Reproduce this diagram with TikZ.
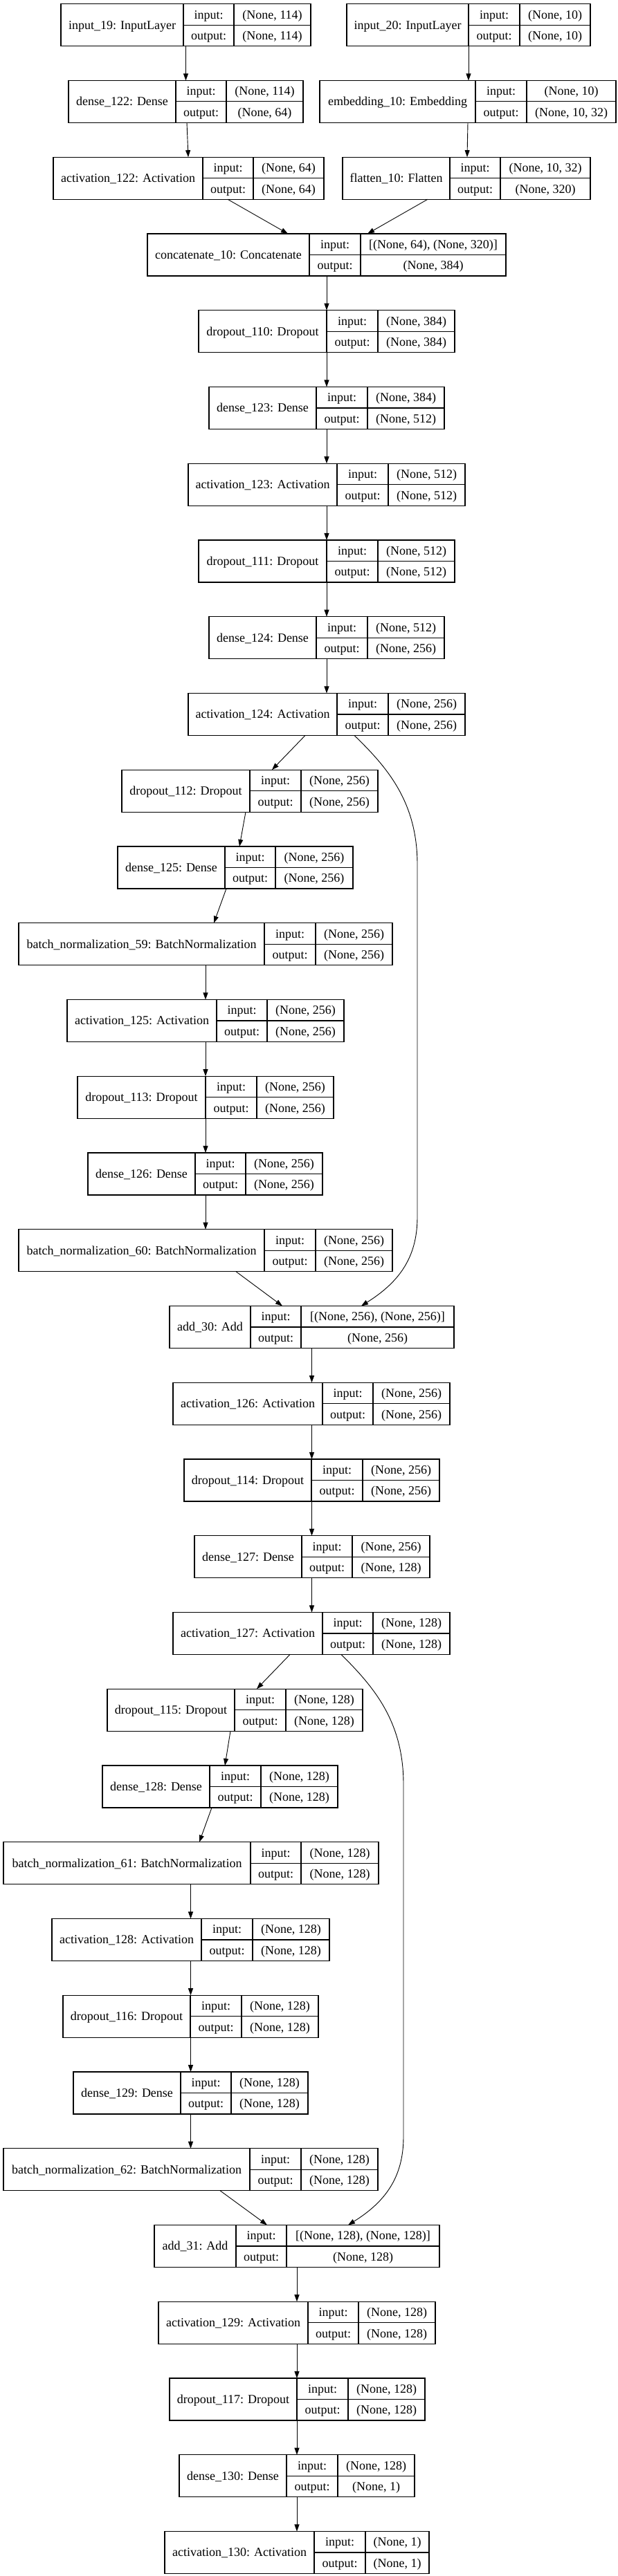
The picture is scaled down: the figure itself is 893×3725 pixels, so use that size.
\documentclass[tikz,border=0pt]{standalone}
\usepackage{fontspec}
\setmainfont{Liberation Serif}
\usetikzlibrary{arrows.meta}
\tikzset{
  rec/.style={draw=black, line width=1.1pt, inner sep=0pt, outer sep=0pt, rectangle},
  cell/.style={draw=black, line width=1.1pt},
  txt/.style={anchor=base, inner sep=0pt, font=\fontsize{18}{20}\selectfont},
  edge/.style={draw=black, line width=0.9pt, -{Triangle[length=10pt,width=7pt]}},
}
% #1 name, #2 x0, #3 x1, #4 d1, #5 d2, #6 row, #7 label, #8 input shape, #9 output shape
\newcommand\mklayer[9]{%
  \pgfmathsetmacro\yt{5.7+110.75*#6}%
  \pgfmathsetmacro\yb{\yt+61}%
  \pgfmathsetmacro\ym{\yt+30.5}%
  \node[rec, anchor=north west, minimum width={(#3-#2)*1pt}, minimum height=61pt] (#1) at (#2,\yt) {};
  \draw[cell] (#4,\yt) -- (#4,\yb) (#5,\yt) -- (#5,\yb) (#4,\ym) -- (#3,\ym);
  \node[txt] (#1-l) at ({(#2+#4)/2},{\ym+6}) {#7};
  \node[txt] (#1-i) at ({(#4+#5)/2},{\yt+21.5}) {input:};
  \node[txt] (#1-o) at ({(#4+#5)/2},{\yt+52}) {output:};
  \node[txt] (#1-a) at ({(#5+#3)/2},{\yt+21.5}) {#8};
  \node[txt] (#1-b) at ({(#5+#3)/2},{\yt+52}) {#9};
}
\newcommand\vedge[3]{\draw[edge] (#1.south -| #3,0) -- (#2.north -| #3,0);}
\newcommand\dedge[4]{\draw[edge] (#1.south -| #2,0) -- (#3.north -| #4,0);}
\begin{document}
\begin{tikzpicture}[x=1pt,y=-1pt]
\fill[white] (0,0) rectangle (893,3725);
\useasboundingbox (0,0) rectangle (893,3725);

\mklayer{in19}{88}{449}{265}{338}{0}{input\_19: InputLayer}{(None, 114)}{(None, 114)}
\mklayer{in20}{501}{853}{677}{751}{0}{input\_20: InputLayer}{(None, 10)}{(None, 10)}
\mklayer{d122}{99}{438}{254}{327}{1}{dense\_122: Dense}{(None, 114)}{(None, 64)}
\mklayer{emb}{462}{890}{687}{761}{1}{embedding\_10: Embedding}{(None, 10)}{(None, 10, 32)}
\mklayer{a122}{77}{468}{293}{366}{2}{activation\_122: Activation}{(None, 64)}{(None, 64)}
\mklayer{fl}{495}{853}{650}{723}{2}{flatten\_10: Flatten}{(None, 10, 32)}{(None, 320)}
\mklayer{cat}{213}{731}{447}{521}{3}{concatenate\_10: Concatenate}{[(None, 64), (None, 320)]}{(None, 384)}
\mklayer{do110}{287}{657}{472}{546}{4}{dropout\_110: Dropout}{(None, 384)}{(None, 384)}
\mklayer{d123}{302}{642}{457}{531}{5}{dense\_123: Dense}{(None, 384)}{(None, 512)}
\mklayer{a123}{272}{672}{487}{561}{6}{activation\_123: Activation}{(None, 512)}{(None, 512)}
\mklayer{do111}{287}{657}{472}{546}{7}{dropout\_111: Dropout}{(None, 512)}{(None, 512)}
\mklayer{d124}{302}{642}{457}{531}{8}{dense\_124: Dense}{(None, 512)}{(None, 256)}
\mklayer{a124}{272}{672}{487}{561}{9}{activation\_124: Activation}{(None, 256)}{(None, 256)}
\mklayer{do112}{176}{546}{361}{435}{10}{dropout\_112: Dropout}{(None, 256)}{(None, 256)}
\mklayer{d125}{170}{510}{325}{398}{11}{dense\_125: Dense}{(None, 256)}{(None, 256)}
\mklayer{bn59}{27}{567}{382}{456}{12}{batch\_normalization\_59: BatchNormalization}{(None, 256)}{(None, 256)}
\mklayer{a125}{97}{497}{313}{386}{13}{activation\_125: Activation}{(None, 256)}{(None, 256)}
\mklayer{do113}{112}{482}{297}{371}{14}{dropout\_113: Dropout}{(None, 256)}{(None, 256)}
\mklayer{d126}{127}{466}{282}{355}{15}{dense\_126: Dense}{(None, 256)}{(None, 256)}
\mklayer{bn60}{27}{567}{382}{456}{16}{batch\_normalization\_60: BatchNormalization}{(None, 256)}{(None, 256)}
\mklayer{add30}{245}{656}{362}{435}{17}{add\_30: Add}{[(None, 256), (None, 256)]}{(None, 256)}
\mklayer{a126}{250}{650}{466}{539}{18}{activation\_126: Activation}{(None, 256)}{(None, 256)}
\mklayer{do114}{266}{635}{450}{524}{19}{dropout\_114: Dropout}{(None, 256)}{(None, 256)}
\mklayer{d127}{281}{621}{436}{509}{20}{dense\_127: Dense}{(None, 256)}{(None, 128)}
\mklayer{a127}{250}{650}{466}{539}{21}{activation\_127: Activation}{(None, 128)}{(None, 128)}
\mklayer{do115}{155}{524}{339}{413}{22}{dropout\_115: Dropout}{(None, 128)}{(None, 128)}
\mklayer{d128}{148}{488}{303}{377}{23}{dense\_128: Dense}{(None, 128)}{(None, 128)}
\mklayer{bn61}{5}{547}{362}{435}{24}{batch\_normalization\_61: BatchNormalization}{(None, 128)}{(None, 128)}
\mklayer{a128}{75}{476}{291}{365}{25}{activation\_128: Activation}{(None, 128)}{(None, 128)}
\mklayer{do116}{91}{460}{275}{349}{26}{dropout\_116: Dropout}{(None, 128)}{(None, 128)}
\mklayer{d129}{106}{445}{261}{334}{27}{dense\_129: Dense}{(None, 128)}{(None, 128)}
\mklayer{bn62}{5}{546}{361}{435}{28}{batch\_normalization\_62: BatchNormalization}{(None, 128)}{(None, 128)}
\mklayer{add31}{223}{635}{341}{414}{29}{add\_31: Add}{[(None, 128), (None, 128)]}{(None, 128)}
\mklayer{a129}{229}{629}{445}{518}{30}{activation\_129: Activation}{(None, 128)}{(None, 128)}
\mklayer{do117}{245}{614}{429}{503}{31}{dropout\_117: Dropout}{(None, 128)}{(None, 128)}
\mklayer{d130}{259}{599}{414}{488}{32}{dense\_130: Dense}{(None, 128)}{(None, 1)}
\mklayer{a130}{238}{620}{454}{528}{33}{activation\_130: Activation}{(None, 1)}{(None, 1)}

% connectors
\vedge{in19}{d122}{268.5}
\dedge{d122}{270}{a122}{272}
\vedge{in20}{emb}{677}
\dedge{emb}{676}{fl}{675}
\dedge{a122}{329}{cat}{416}
\dedge{fl}{618}{cat}{531}
\vedge{cat}{do110}{472}
\vedge{do110}{d123}{472}
\vedge{d123}{a123}{472}
\vedge{a123}{do111}{472}
\vedge{do111}{d124}{472}
\vedge{d124}{a124}{472}
\dedge{a124}{441}{do112}{393}
\dedge{do112}{355}{d125}{346}
\dedge{d125}{327}{bn59}{309}
\vedge{bn59}{a125}{297}
\vedge{a125}{do113}{297}
\vedge{do113}{d126}{297}
\vedge{d126}{bn60}{297}
\dedge{bn60}{341}{add30}{408}
\draw[edge] (a124.south -| 512,0) .. controls (560,1110) and (603,1160) .. (603,1250)
  -- (603,1760) .. controls (603,1820) and (575,1855) .. (add30.north -| 522,0);
\vedge{add30}{a126}{450.5}
\vedge{a126}{do114}{450.5}
\vedge{do114}{d127}{450.5}
\vedge{d127}{a127}{450.5}
\dedge{a127}{419}{do115}{371}
\dedge{do115}{333}{d128}{325}
\dedge{d128}{306}{bn61}{288}
\vedge{bn61}{a128}{275.5}
\vedge{a128}{do116}{275.5}
\vedge{do116}{d129}{275.5}
\vedge{d129}{bn62}{275.5}
\dedge{bn62}{318}{add31}{386}
\draw[edge] (a127.south -| 493,0) .. controls (541,2440) and (583,2490) .. (583,2580)
  -- (583,3090) .. controls (583,3150) and (555,3185) .. (add31.north -| 503,0);
\vedge{add31}{a129}{429}
\vedge{a129}{do117}{429}
\vedge{do117}{d130}{429}
\vedge{d130}{a130}{429}
\end{tikzpicture}
\end{document}
